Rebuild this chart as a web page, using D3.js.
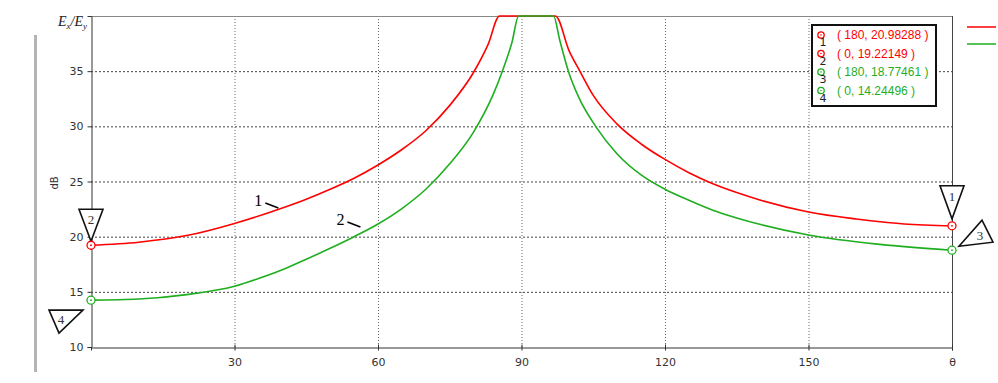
<!DOCTYPE html>
<html>
<head>
<meta charset="utf-8">
<script src="https://cdn.jsdelivr.net/npm/d3@7"></script>
<style>
  body { margin: 0; background: #fff; }
  .tick text { font-family: "DejaVu Sans", sans-serif; font-size: 11px; fill: #333; }
</style>
</head>
<body>
<div id="chart"></div>
<script>
    var width = 998,
        height = 383;

    // curve 1 (red) and curve 2 (green), dB vs theta (deg); clipped at 40 dB
    var thetaRed = [0, 10, 20, 30, 40, 45, 50, 55, 60, 65, 70, 75, 80, 83, 85.4, 88, 92, 97.1, 100, 102.2, 105, 110, 115, 120, 125, 130, 135, 140, 150, 160, 165, 170, 180];
    var valRed   = [19.22149, 19.5, 20.1, 21.2, 22.6, 23.4, 24.3, 25.3, 26.5, 27.9, 29.6, 31.9, 34.9, 37.4, 40, 40, 40, 40, 36.8, 35, 32.8, 30.2, 28.4, 27.0, 25.8, 24.8, 24.0, 23.3, 22.24, 21.6, 21.35, 21.15, 20.98288];

    var thetaGreen = [0, 10, 20, 30, 35, 40, 45, 50, 55, 60, 65, 70, 75, 80, 84, 86, 88, 89.4, 92, 96.7, 98, 99.8, 102, 105.5, 110, 115, 120, 125, 130, 135, 140, 150, 165, 180];
    var valGreen   = [14.24496, 14.35, 14.75, 15.5, 16.2, 17.0, 17.95, 18.95, 20.0, 21.15, 22.55, 24.3, 26.6, 29.5, 32.8, 35, 37.6, 40, 40, 40, 37.8, 35, 32.6, 30, 27.5, 25.6, 24.3, 23.3, 22.4, 21.7, 21.1, 20.15, 19.3, 18.77461];

    var xTicks = [30, 60, 90, 120, 150];
    var yTicks = [10, 15, 20, 25, 30, 35];

    // markers: number, series, theta, value
    var markerNames  = ["1", "2", "3", "4"];
    var markerSeries = ["red", "red", "green", "green"];
    var markerTheta  = [180, 0, 180, 0];
    var markerValue  = [20.98288, 19.22149, 18.77461, 14.24496];

    var colors = { red: "#ff0000", green: "#1fae1f" };

    var margin = { left: 91, right: 46, top: 16, bottom: 36 };

    var x = d3.scaleLinear()
      .domain([0, 180])
      .range([margin.left, width - margin.right]);

    var y = d3.scaleLinear()
      .domain([10, 40])
      .range([height - margin.bottom, margin.top]);

    var svg = d3.select("#chart").append("svg")
      .attr("width", width)
      .attr("height", height);

    // gray bar on the far left
    svg.append("rect")
      .attr("x", 34).attr("y", 35)
      .attr("width", 3).attr("height", 337)
      .attr("fill", "#b4b4b4");

    svg.append("defs").append("clipPath")
      .attr("id", "plotclip")
      .append("rect")
      .attr("x", x(0)).attr("y", y(40) - 1)
      .attr("width", x(180) - x(0)).attr("height", y(10) - y(40) + 2);

    // grid
    svg.append("g").selectAll("line")
      .data(yTicks.filter(function(d) { return d > 10; }))
      .enter().append("line")
      .attr("x1", x(0)).attr("x2", x(180))
      .attr("y1", function(d) { return y(d) + 0.5; })
      .attr("y2", function(d) { return y(d) + 0.5; })
      .attr("stroke", "#444")
      .attr("stroke-dasharray", "2,2");

    svg.append("g").selectAll("line")
      .data(xTicks)
      .enter().append("line")
      .attr("x1", function(d) { return x(d) + 0.5; })
      .attr("x2", function(d) { return x(d) + 0.5; })
      .attr("y1", y(40)).attr("y2", y(10))
      .attr("stroke", "#666")
      .attr("stroke-dasharray", "1,2");

    // frame
    svg.append("line")
      .attr("x1", x(0)).attr("x2", x(180) + 1)
      .attr("y1", y(40) + 0.5).attr("y2", y(40) + 0.5)
      .attr("stroke", "#888");
    svg.append("line")
      .attr("x1", x(180) + 0.5).attr("x2", x(180) + 0.5)
      .attr("y1", y(40)).attr("y2", y(10))
      .attr("stroke", "#444");

    // axes
    var yAxis = d3.axisLeft(y).tickValues(yTicks).tickSize(4).tickPadding(4);
    var gy = svg.append("g")
      .attr("transform", "translate(" + (x(0) + 0.5) + ",0)")
      .call(yAxis);
    gy.select(".domain").attr("stroke", "#333");
    gy.selectAll(".tick line").attr("stroke", "#333");

    var xAxis = d3.axisBottom(x).tickValues(xTicks.concat([180]))
      .tickSize(3).tickPadding(8)
      .tickFormat(function(d) { return d === 180 ? "\u03b8" : d; });
    var gx = svg.append("g")
      .attr("transform", "translate(0," + (y(10) + 0.5) + ")")
      .call(xAxis);
    gx.select(".domain").attr("stroke", "#333");
    gx.selectAll(".tick line").attr("stroke", "#333").attr("y1", -3);

    // axis titles
    svg.append("text")
      .attr("transform", "translate(58,183) rotate(-90)")
      .attr("text-anchor", "middle")
      .style("font-family", "DejaVu Sans, sans-serif")
      .style("font-size", "10px")
      .attr("fill", "#333")
      .text("dB");

    var ttl = svg.append("text")
      .attr("x", 58).attr("y", 26)
      .style("font-family", "Liberation Serif, serif")
      .style("font-style", "italic")
      .style("font-size", "14px")
      .attr("fill", "#222");
    ttl.append("tspan").text("E");
    ttl.append("tspan").attr("dy", 3).style("font-size", "9px").text("x");
    ttl.append("tspan").attr("dy", -3).text("/E");
    ttl.append("tspan").attr("dy", 3).style("font-size", "9px").text("y");

    // curves
    var line = d3.line()
      .x(function(d) { return x(d[0]); })
      .y(function(d) { return y(d[1]); })
      .curve(d3.curveMonotoneX);

    var curves = svg.append("g").attr("clip-path", "url(#plotclip)");
    curves.append("path")
      .datum(d3.zip(thetaRed, valRed))
      .attr("fill", "none")
      .attr("stroke", colors.red)
      .attr("stroke-width", 1.6)
      .attr("d", line);
    curves.append("path")
      .datum(d3.zip(thetaGreen, valGreen))
      .attr("fill", "none")
      .attr("stroke", colors.green)
      .attr("stroke-width", 1.6)
      .attr("d", line);

    // curve labels
    function curveLabel(txt, th, val, dx, dy) {
      var px = x(th), py = y(val);
      svg.append("text")
        .attr("x", px + dx).attr("y", py + dy)
        .style("font-family", "Liberation Serif, serif")
        .style("font-size", "16px")
        .attr("fill", "#000")
        .text(txt);
      svg.append("line")
        .attr("x1", px + dx + 11).attr("y1", py + dy - 3)
        .attr("x2", px + dx + 24).attr("y2", py + dy + 2)
        .attr("stroke", "#000").attr("stroke-width", 1.5);
    }
    curveLabel("1", 40, 22.6, -28, -2);
    curveLabel("2", 58, 20.6, -32, -5);

    // point markers with flags
    var flags = [
      { pts: [[-12, -40], [12, -40], [0, -7]], tx: 0, ty: -25 },
      { pts: [[-12, -36], [12, -36], [0, -4]], tx: 0, ty: -21 },
      { pts: [[7, -4], [30, -30], [41, -8]], tx: 28, ty: -10 },
      { pts: [[-42, 10], [-8, 10], [-32, 33]], tx: -30, ty: 24 }
    ];
    markerNames.forEach(function(nm, i) {
      var px = x(markerTheta[i]), py = y(markerValue[i]);
      var f = flags[i];
      svg.append("path")
        .attr("d", "M" + f.pts.map(function(p) { return (px + p[0]) + "," + (py + p[1]); }).join("L") + "Z")
        .attr("fill", "#fff")
        .attr("stroke", "#111")
        .attr("stroke-width", 1.6);
      svg.append("text")
        .attr("x", px + f.tx).attr("y", py + f.ty)
        .attr("text-anchor", "middle")
        .style("font-family", "Liberation Serif, serif")
        .style("font-size", "13px")
        .attr("fill", "#333")
        .text(nm);
      svg.append("circle")
        .attr("cx", px).attr("cy", py).attr("r", 4)
        .attr("fill", "#fff")
        .attr("stroke", colors[markerSeries[i]])
        .attr("stroke-width", 1.3);
      svg.append("circle")
        .attr("cx", px).attr("cy", py).attr("r", 0.9)
        .attr("fill", colors[markerSeries[i]]);
    });

    // marker legend box
    var lg = svg.append("g").attr("transform", "translate(812,25)");
    lg.append("rect")
      .attr("width", 124).attr("height", 81)
      .attr("fill", "#fff")
      .attr("stroke", "#111")
      .attr("stroke-width", 2);
    markerNames.forEach(function(nm, i) {
      var ry = 10 + i * 18.5;
      var c = colors[markerSeries[i]];
      lg.append("circle").attr("cx", 9).attr("cy", ry).attr("r", 3.2)
        .attr("fill", "#fff").attr("stroke", c).attr("stroke-width", 1.3);
      lg.append("circle").attr("cx", 9).attr("cy", ry).attr("r", 0.8).attr("fill", c);
      lg.append("text")
        .attr("x", 11).attr("y", ry + 11)
        .attr("text-anchor", "middle")
        .style("font-family", "DejaVu Sans, sans-serif")
        .style("font-size", "11px")
        .attr("fill", "#222")
        .text(nm);
      lg.append("text")
        .attr("x", 25).attr("y", ry + 4)
        .style("font-family", "Liberation Sans, sans-serif")
        .style("font-size", "12px")
        .attr("fill", c)
        .text("( " + markerTheta[i] + ", " + markerValue[i] + " )");
    });

    // series legend samples (cut at the right edge)
    [["red", 27], ["green", 44]].forEach(function(s) {
      svg.append("line")
        .attr("x1", 967).attr("x2", 996)
        .attr("y1", s[1]).attr("y2", s[1])
        .attr("stroke", colors[s[0]])
        .attr("stroke-width", 1.5);
    });
</script>
</body>
</html>
